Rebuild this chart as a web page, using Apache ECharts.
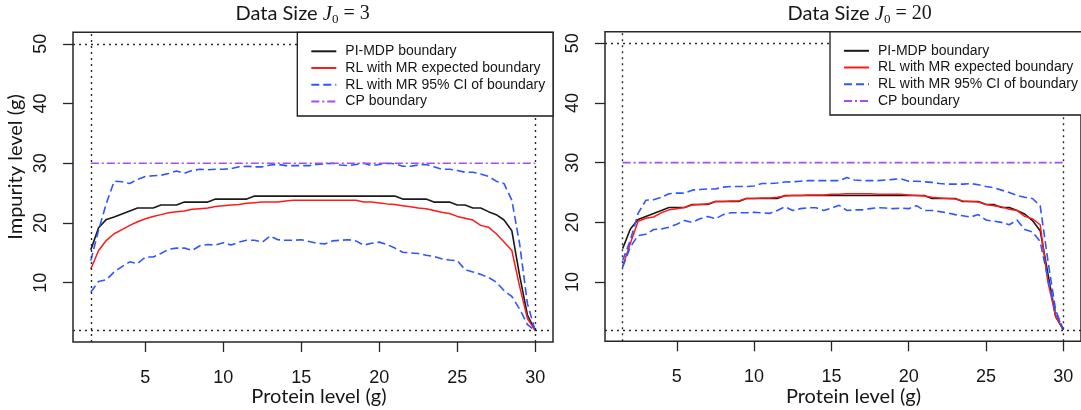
<!DOCTYPE html>
<html><head><meta charset="utf-8">
<script src="https://cdn.jsdelivr.net/npm/echarts@6/dist/echarts.min.js"></script>
<style>html,body{margin:0;padding:0;background:#fff}#c{width:1081px;height:410px}</style>
</head><body><div id="c"></div>
<script>
// ---------------- data ----------------
const proteinLevels = [
  1.5,2,2.5,3,3.5,4,4.5,5,5.5,6,
  6.5,7,7.5,8,8.5,9,9.5,10,10.5,11,
  11.5,12,12.5,13,13.5,14,14.5,15,15.5,16,
  16.5,17,17.5,18,18.5,19,19.5,20,20.5,21,
  21.5,22,22.5,23,23.5,24,24.5,25,25.5,26,
  26.5,27,27.5,28,28.5,29,29.5,30];

// Panel J0 = 3
const pimdpJ3 = [
  15.5,19.2,20.6,21.0,21.5,22.0,22.5,22.5,22.5,23.0,
  23.0,23.0,23.5,23.5,23.5,23.5,24.0,24.0,24.0,24.0,
  24.0,24.5,24.5,24.5,24.5,24.5,24.5,24.5,24.5,24.5,
  24.5,24.5,24.5,24.5,24.5,24.5,24.5,24.5,24.5,24.5,
  24.0,24.0,24.0,24.0,23.5,23.5,23.5,23.0,23.0,22.5,
  22.5,21.9,21.4,20.5,18.7,11.2,4.6,2.0];
const rlExpJ3 = [
  12.3,15.4,17.1,18.2,18.9,19.6,20.2,20.7,21.1,21.4,
  21.7,21.9,22.0,22.3,22.4,22.5,22.75,22.9,23.0,23.1,
  23.3,23.4,23.5,23.5,23.5,23.7,23.8,23.8,23.8,23.8,
  23.8,23.8,23.8,23.8,23.8,23.5,23.5,23.35,23.2,23.1,
  22.9,22.7,22.5,22.4,22.1,21.8,21.6,21.1,20.8,20.5,
  19.6,19.3,18.2,16.8,15.4,9.4,4.0,2.0];
const ciUpperJ3 = [
  13.7,18.8,23.3,27.0,26.9,26.6,27.3,27.8,27.9,28.0,
  28.3,28.7,28.3,28.8,29.0,28.9,29.0,29.0,29.1,29.4,
  29.5,29.4,29.4,29.7,29.8,29.6,29.6,29.6,29.6,29.8,
  29.9,30.0,29.7,29.6,29.8,30.0,29.6,29.8,30.0,29.9,
  29.5,29.5,29.7,29.8,29.4,29.0,29.0,28.8,28.5,28.5,
  28.2,27.8,27.0,26.6,23.8,16.5,6.5,2.0];
const ciLowerJ3 = [
  8.4,10.2,10.5,11.8,12.7,13.5,13.2,14.3,14.3,14.9,
  15.6,15.8,15.8,15.4,16.2,16.4,16.3,16.7,16.3,16.8,
  17.1,17.1,16.8,17.8,17.2,17.1,17.1,17.2,16.9,16.6,
  16.5,17.0,17.1,17.2,17.0,16.3,16.6,16.8,16.4,15.8,
  15.1,15.0,14.9,14.6,14.4,14.0,13.8,13.7,12.2,11.8,
  11.4,10.9,10.1,8.7,7.7,5.6,3.0,2.0];

// Panel J0 = 20
const pimdpJ20 = [
  15.6,18.9,20.5,21.0,21.5,22.0,22.5,22.5,22.5,23.0,
  23.0,23.0,23.5,23.5,23.5,23.5,24.0,24.0,24.0,24.0,
  24.0,24.5,24.5,24.5,24.5,24.5,24.5,24.5,24.5,24.5,
  24.5,24.5,24.5,24.5,24.5,24.5,24.5,24.5,24.5,24.5,
  24.0,24.0,24.0,24.0,23.5,23.5,23.5,23.0,23.0,22.5,
  22.5,22.0,21.4,20.3,18.6,11.4,4.2,2.0];
const rlExpJ20 = [
  12.6,16.5,20.2,20.7,20.9,21.6,22.1,22.3,22.5,22.9,
  23.0,23.1,23.5,23.5,23.6,23.6,24.0,24.0,24.1,24.1,
  24.2,24.4,24.5,24.5,24.6,24.6,24.6,24.7,24.7,24.8,
  24.8,24.8,24.8,24.7,24.7,24.7,24.7,24.6,24.5,24.4,
  24.2,24.1,24.0,23.9,23.6,23.5,23.4,23.0,22.8,22.6,
  22.2,22.0,21.0,20.6,19.6,10.0,4.3,2.0];
const ciUpperJ20 = [
  13.6,17.0,21.5,23.7,23.8,24.2,24.8,24.9,24.9,25.4,
  25.5,25.6,25.6,25.9,26.0,26.0,26.0,26.1,26.5,26.5,
  26.6,26.75,26.8,26.9,27.0,27.0,27.0,27.0,27.0,27.5,
  27.1,27.0,27.0,27.0,27.1,27.2,27.3,26.9,26.9,26.8,
  26.7,26.5,26.4,26.4,26.4,26.5,26.3,26.0,25.8,25.4,
  25.0,24.5,24.2,24.0,22.8,13.6,5.3,2.0];
const ciLowerJ20 = [
  12.5,15.9,17.8,18.0,18.8,18.9,19.2,19.7,20.3,20.0,
  20.6,21.0,20.6,21.3,21.6,21.6,21.6,21.7,21.6,21.5,
  22.0,22.6,22.0,22.3,22.45,22.45,22.0,22.4,22.85,22.0,
  22.1,22.1,22.3,22.45,22.4,22.3,22.4,22.3,22.8,22.0,
  22.0,21.8,21.6,21.3,21.1,20.9,21.3,20.4,20.2,20.0,
  19.6,20.4,18.8,18.4,16.8,10.6,5.0,2.0];

const cpLevel = 30;
const boundsX = [1.5, 30];
const boundsY = [2, 50];
const xTicks = [5, 10, 15, 20, 25, 30];
const yTicks = [10, 20, 30, 40, 50];
const xRange = [0.36, 31.14];
const yRange = [0.08, 51.92];
const dataSizes = ['3', '20'];
const seriesNames = ['PI-MDP boundary', 'RL with MR expected boundary', 'RL with MR 95% CI of boundary', 'CP boundary'];
const xTitle = 'Protein level (g)';
const yTitle = 'Impurity level (g)';

// ---------------- chart ----------------
const panels = [
  {pimdp: pimdpJ3, rl: rlExpJ3, up: ciUpperJ3, lo: ciLowerJ3},
  {pimdp: pimdpJ20, rl: rlExpJ20, up: ciUpperJ20, lo: ciLowerJ20}
];
const pairs = arr => arr.map((v, i) => [proteinLevels[i], v]);

const gridPos = [
  {left: 73, top: 32.3, width: 480, height: 309.7},
  {left: 605, top: 31.8, width: 480, height: 309.5}
];
const legendBox = [
  {x: 297.3, y: 32.3, width: 255.7, height: 83.7},
  {x: 830, y: 31.8, width: 256, height: 83.2}
];
const titleX = [302.7, 859.7];
const xTitleX = [318.9, 853.5];

const tickFont = 'Liberation Sans';
const txtColor = '#161616';

const grids = [], xAxes = [], yAxes = [], series = [], legends = [], titles = [], graphics = [];
panels.forEach((p, k) => {
  grids.push(Object.assign({show: true, borderColor: '#262626', borderWidth: 1.5, backgroundColor: 'transparent'}, gridPos[k]));
  xAxes.push({
    type: 'value', gridIndex: k, min: xRange[0], max: xRange[1],
    axisLine: {show: false}, splitLine: {show: false},
    axisTick: {show: true, length: 10, customValues: xTicks, lineStyle: {color: '#262626', width: 1.3}},
    axisLabel: {customValues: xTicks, fontSize: 18, fontFamily: tickFont, color: txtColor, margin: 27}
  });
  yAxes.push({
    type: 'value', gridIndex: k, min: yRange[0], max: yRange[1],
    axisLine: {show: false}, splitLine: {show: false},
    axisTick: {show: true, length: 10, customValues: yTicks, lineStyle: {color: '#262626', width: 1.3}},
    axisLabel: {customValues: yTicks, fontSize: 18, fontFamily: tickFont, color: txtColor, rotate: 90, margin: 23}
  });
  const common = {type: 'line', xAxisIndex: k, yAxisIndex: k, symbol: 'none', silent: true, animation: false};
  series.push(Object.assign({}, common, {
    name: '__ref' + k, data: [],
    markLine: {silent: true, symbol: ['none', 'none'], animation: false, label: {show: false},
      lineStyle: {type: [2, 4], color: '#2a2a2a', width: 1.4},
      emphasis: {disabled: true},
      data: [{xAxis: boundsX[0]}, {xAxis: boundsX[1]}, {yAxis: boundsY[0]}, {yAxis: boundsY[1]}]}
  }));
  series.push(Object.assign({}, common, {name: seriesNames[0], data: pairs(p.pimdp),
    lineStyle: {color: '#1a1a1a', width: 1.6}, itemStyle: {color: '#1a1a1a'}}));
  series.push(Object.assign({}, common, {name: seriesNames[1], data: pairs(p.rl),
    lineStyle: {color: '#ff1a1a', width: 1.5}, itemStyle: {color: '#ff1a1a'}}));
  series.push(Object.assign({}, common, {name: seriesNames[2], data: pairs(p.up),
    lineStyle: {color: '#2f55ff', width: 1.6, type: [8, 4]}, itemStyle: {color: '#2f55ff'}}));
  series.push(Object.assign({}, common, {name: seriesNames[2], data: pairs(p.lo),
    lineStyle: {color: '#2f55ff', width: 1.6, type: [8, 4]}, itemStyle: {color: '#2f55ff'}}));
  series.push(Object.assign({}, common, {name: seriesNames[3], data: [[boundsX[0], cpLevel], [boundsX[1], cpLevel]],
    lineStyle: {color: '#a64cf2', width: 1.6, type: [8, 3, 2, 3]}, itemStyle: {color: '#a64cf2'}}));
  // legend frame (drawn as a rectangle so it can run past the canvas edge like the reference)
  graphics.push({type: 'rect', silent: true, z: 8, shape: legendBox[k],
    style: {fill: '#ffffff', stroke: '#1a1a1a', lineWidth: 1.3}});
  legends.push({
    left: legendBox[k].x, top: legendBox[k].y, orient: 'vertical',
    data: seriesNames, selectedMode: false,
    padding: [12, 10, 10, 13], itemWidth: 25, itemHeight: 14, itemGap: 2.7,
    backgroundColor: 'transparent', borderWidth: 0,
    itemStyle: {color: 'rgba(0,0,0,0)', borderWidth: 0, opacity: 0},
    textStyle: {fontFamily: tickFont, fontSize: 14, color: txtColor, lineHeight: 14, padding: [0, 0, 0, 4]},
    z: 10
  });
  const rich = {
    a: {fontFamily: 'Lato', fontSize: 20, fontWeight: 'normal', color: txtColor, lineHeight: 24},
    j: {fontFamily: 'Liberation Serif', fontStyle: 'italic', fontWeight: 'normal', fontSize: 21, color: txtColor, lineHeight: 24},
    s: {fontFamily: 'Liberation Serif', fontSize: 13, fontWeight: 'normal', color: txtColor, lineHeight: 13, verticalAlign: 'bottom'},
    e: {fontFamily: 'Liberation Serif', fontSize: 20, fontWeight: 'normal', color: txtColor, lineHeight: 24}
  };
  titles.push({
    text: '{a|Data Size }{j|J}{s|0}{e| = ' + dataSizes[k] + '}',
    left: titleX[k], top: 2, textAlign: 'center', padding: 0,
    textStyle: {fontWeight: 'normal', fontFamily: 'Lato', fontSize: 20, rich: rich}
  });
});

graphics.push(
  {type: 'text', x: 16, y: 167, rotation: Math.PI / 2, silent: true,
   style: {text: yTitle, font: '20px Lato', fill: txtColor, align: 'center', verticalAlign: 'middle'}},
  {type: 'text', x: xTitleX[0], y: 397, silent: true,
   style: {text: xTitle, font: '20px Lato', fill: txtColor, align: 'center', verticalAlign: 'middle'}},
  {type: 'text', x: xTitleX[1], y: 397, silent: true,
   style: {text: xTitle, font: '20px Lato', fill: txtColor, align: 'center', verticalAlign: 'middle'}}
);

const chart = echarts.init(document.getElementById('c'), null, {renderer: 'canvas'});
chart.setOption({
  animation: false,
  backgroundColor: '#ffffff',
  title: titles,
  legend: legends,
  grid: grids,
  xAxis: xAxes,
  yAxis: yAxes,
  series: series,
  graphic: graphics
});
</script>
</body></html>
